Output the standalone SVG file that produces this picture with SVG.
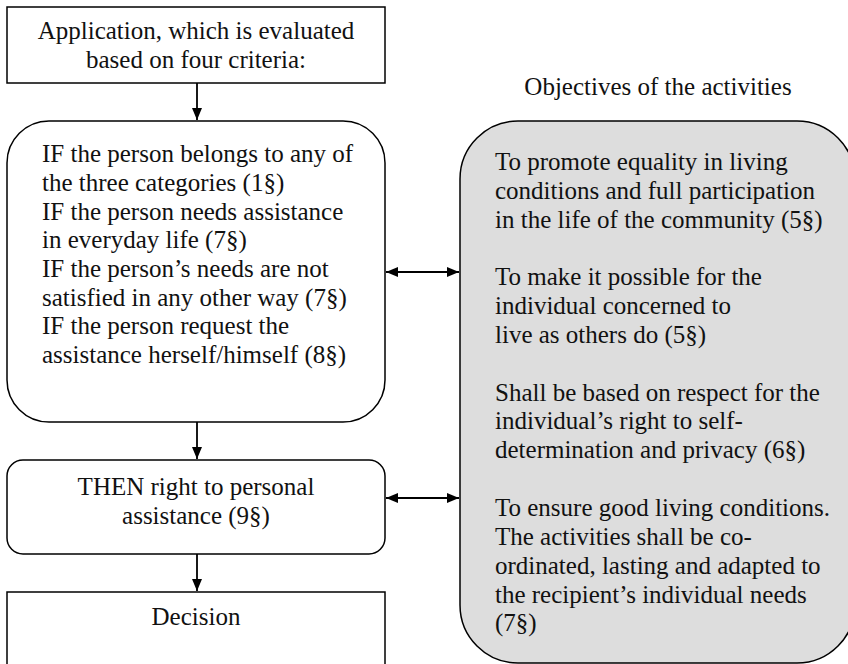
<svg xmlns="http://www.w3.org/2000/svg" width="848" height="664" viewBox="0 0 848 664">
  <defs>
    <marker id="head" viewBox="0 0 12 10" markerWidth="12" markerHeight="10" refX="12" refY="5" markerUnits="userSpaceOnUse" orient="auto-start-reverse">
      <path d="M0,0 L12,5 L0,10 z" fill="#000"/>
    </marker>
    <style>
      .box { fill: #fff; stroke: #000; stroke-width: 1.5; }
      .grey { fill: #dddddd; stroke: #000; stroke-width: 1.5; }
      .t { font-family: "Liberation Serif", "Times New Roman", serif; font-size: 25px; fill: #111; }
      .c { text-anchor: middle; }
      .link { stroke: #000; stroke-width: 1.8; fill: none; }
    </style>
  </defs>
  <rect width="848" height="664" fill="#fff"/>

  <g id="application">
    <rect class="box" x="7" y="7" width="378" height="76"/>
    <text class="t c" x="196" y="39">Application, which is evaluated</text>
    <text class="t c" x="196" y="68">based on four criteria:</text>
  </g>

  <g id="criteria">
    <rect class="box" x="7" y="121" width="378" height="301" rx="42" ry="42"/>
    <text class="t" x="42" y="162">IF the person belongs to any of</text>
    <text class="t" x="42" y="191">the three categories (1§)</text>
    <text class="t" x="42" y="220">IF the person needs assistance</text>
    <text class="t" x="42" y="248">in everyday life (7§)</text>
    <text class="t" x="42" y="277">IF the person’s needs are not</text>
    <text class="t" x="42" y="306">satisfied in any other way (7§)</text>
    <text class="t" x="42" y="334">IF the person request the</text>
    <text class="t" x="42" y="363">assistance herself/himself (8§)</text>
  </g>

  <g id="right">
    <rect class="box" x="7" y="460" width="378" height="94" rx="16" ry="16"/>
    <text class="t c" x="196" y="495">THEN right to personal</text>
    <text class="t c" x="196" y="524">assistance (9§)</text>
  </g>

  <g id="decision">
    <rect class="box" x="7" y="592" width="378" height="90"/>
    <text class="t c" x="196" y="625">Decision</text>
  </g>

  <g id="objectives">
    <text class="t c" x="658" y="95">Objectives of the activities</text>
    <rect class="grey" x="460" y="121" width="395" height="542" rx="58" ry="58"/>
    <text class="t" x="495" y="170">To promote equality in living</text>
    <text class="t" x="495" y="199">conditions and full participation</text>
    <text class="t" x="495" y="228">in the life of the community (5§)</text>
    <text class="t" x="495" y="285">To make it possible for the</text>
    <text class="t" x="495" y="314">individual concerned to</text>
    <text class="t" x="495" y="343">live as others do (5§)</text>
    <text class="t" x="495" y="401">Shall be based on respect for the</text>
    <text class="t" x="495" y="429">individual’s right to self-</text>
    <text class="t" x="495" y="458">determination and privacy (6§)</text>
    <text class="t" x="495" y="516">To ensure good living conditions.</text>
    <text class="t" x="495" y="545">The activities shall be co-</text>
    <text class="t" x="495" y="574">ordinated, lasting and adapted to</text>
    <text class="t" x="495" y="603">the recipient’s individual needs</text>
    <text class="t" x="495" y="631">(7§)</text>
  </g>

  <g id="connectors">
    <line class="link" x1="197" y1="83" x2="197" y2="120" marker-end="url(#head)"/>
    <line class="link" x1="197" y1="422" x2="197" y2="459" marker-end="url(#head)"/>
    <line class="link" x1="197" y1="554" x2="197" y2="591" marker-end="url(#head)"/>
    <line class="link" x1="386" y1="272" x2="459" y2="272" marker-start="url(#head)" marker-end="url(#head)"/>
    <line class="link" x1="386" y1="498" x2="459" y2="498" marker-start="url(#head)" marker-end="url(#head)"/>
  </g>
</svg>
